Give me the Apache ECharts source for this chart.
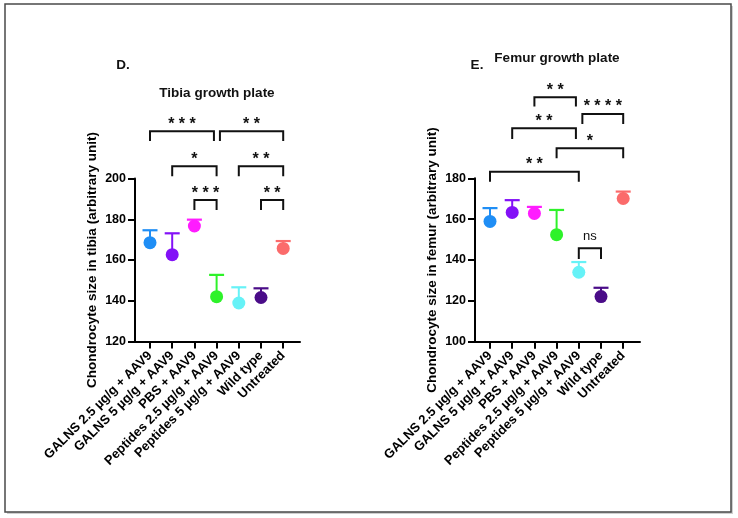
<!DOCTYPE html>
<html>
<head>
<meta charset="utf-8">
<script src="https://cdn.jsdelivr.net/npm/echarts@6/dist/echarts.min.js"></script>
<style>
  html, body { margin: 0; padding: 0; background: #fff; }
  #main { width: 738px; height: 518px; }
</style>
</head>
<body>
<div id="main"></div>
<script>
var groups = ['GALNS 2.5 µg/g + AAV9', 'GALNS 5 µg/g + AAV9', 'PBS + AAV9',
    'Peptides 2.5 µg/g + AAV9', 'Peptides 5 µg/g + AAV9', 'Wild type', 'Untreated'];
var colors = ['#1f8ef5', '#8311f7', '#ff1cff', '#2ef22a', '#66f2f7', '#4a0c88', '#fb6b6b'];

// tibia: mean and top of the (one sided) error bar
var tibiaMean = [168.5, 162.6, 176.7, 142.0, 138.9, 141.6, 165.7];
var tibiaUpper = [174.6, 173.1, 179.8, 152.7, 146.6, 146.1, 169.3];
// femur
var femurMean = [158.9, 163.3, 162.8, 152.4, 134.0, 122.1, 170.1];
var femurUpper = [165.4, 169.3, 166.0, 164.5, 139.0, 126.4, 173.5];

// significance brackets: [from group, to group, bar height, leg bottom]
var tibiaBrackets = [[0, 2.88, 223.2, 218.4], [3.15, 6, 223.2, 218.4], [1, 3, 206.0, 201.1],
    [4, 6, 206.0, 201.1], [2, 3, 189.4, 184.5], [5, 6, 189.4, 184.5]];
var tibiaStars = ['***', '**', '*', '**', '***', '**'];
var femurBrackets = [[2, 3.87, 219.7, 215.1], [4.16, 6, 211.5, 206.6], [1, 3.87, 204.5, 199.2],
    [3, 6, 194.7, 189.8], [0, 4, 183.2, 178.3], [4, 5, 145.7, 140.5]];
var femurStars = ['**', '****', '**', '*', '**', 'ns'];

var FONT = 'Arial, "Liberation Sans", sans-serif';
var myChart = echarts.init(document.getElementById('main'));

function pointData(mean) {
    return mean.map(function (v, i) {
        return { value: [i, v], itemStyle: { color: colors[i], opacity: 1 } };
    });
}
function errData(mean, upper) {
    return mean.map(function (v, i) { return [i, v, upper[i]]; });
}

function renderErr(params, api) {
    var i = api.value(0);
    var a = api.coord([i, api.value(1)]);
    var b = api.coord([i, api.value(2)]);
    var c = colors[params.dataIndex];
    return {
        type: 'group',
        children: [
            { type: 'line', shape: { x1: a[0], y1: a[1], x2: b[0], y2: b[1] },
              style: { stroke: c, lineWidth: 2 } },
            { type: 'line', shape: { x1: b[0] - 7.5, y1: b[1], x2: b[0] + 7.5, y2: b[1] },
              style: { stroke: c, lineWidth: 2.2 } }
        ]
    };
}

function bracketRenderer(stars) {
    return function (params, api) {
        var p0 = api.coord([0, api.value(2)]);
        var p1 = api.coord([1, api.value(2)]);
        var step = p1[0] - p0[0];
        var xa = p0[0] + step * api.value(0);
        var xb = p0[0] + step * api.value(1);
        var yTop = p0[1];
        var yFoot = api.coord([0, api.value(3)])[1];
        var lab = stars[params.dataIndex];
        var isNs = lab === 'ns';
        return {
            type: 'group',
            children: [
                { type: 'polyline', shape: { points: [[xa, yFoot], [xa, yTop], [xb, yTop], [xb, yFoot]] },
                  style: { stroke: '#111', lineWidth: 2, fill: null } },
                { type: 'text', style: {
                    x: (xa + xb) / 2, y: isNs ? yTop - 12 : yTop - 7,
                    text: isNs ? lab : lab.split('').join(' '),
                    textAlign: 'center', textVerticalAlign: 'middle',
                    font: (isNs ? 'normal 13px ' : 'bold 16px ') + FONT, fill: '#111' } }
            ]
        };
    };
}

function axesGrid(idx) {
    return [
        { gridIndex: idx, type: 'value', min: 0, max: 1,
          axisLine: { show: true, lineStyle: { color: '#000', width: 2 } },
          axisTick: { show: false }, axisLabel: { show: false }, splitLine: { show: false } },
        { gridIndex: idx + 1, type: 'category', data: groups,
          axisLine: { show: false },
          axisTick: { show: true, alignWithLabel: true, length: 7, lineStyle: { color: '#000', width: 2 } },
          axisLabel: { interval: 0, rotate: 45, margin: 12, color: '#000',
                       fontSize: 13, fontWeight: 'bold', fontFamily: FONT },
          splitLine: { show: false } }
    ];
}

function yAxes(idx, min, max, name) {
    return [
        { gridIndex: idx, type: 'value', min: min, max: max, interval: 20,
          axisLine: { show: true, lineStyle: { color: '#000', width: 2 } },
          axisTick: { show: true, length: 7, lineStyle: { color: '#000', width: 2 } },
          axisLabel: { margin: 9, color: '#000', fontSize: 12.5, fontWeight: 'bold', fontFamily: FONT },
          splitLine: { show: false },
          name: name, nameLocation: 'middle', nameGap: 36,
          nameTextStyle: { color: '#000', fontSize: 13.5, fontWeight: 'bold', fontFamily: FONT } },
        { gridIndex: idx + 1, type: 'value', min: min, max: max, show: false, splitLine: { show: false } }
    ];
}

function txt(x, y, s, size) {
    return { type: 'text', z: 5, style: { x: x, y: y, text: s, textAlign: 'center', textVerticalAlign: 'middle',
        font: 'bold ' + size + 'px ' + FONT, fill: '#111' } };
}

option = {
    backgroundColor: '#fff',
    animation: false,
    graphic: [
        { type: 'rect', z: -2, shape: { x: 7, y: 6, width: 726, height: 508 }, style: { fill: '#cfcfcf' } },
        { type: 'rect', z: -1, shape: { x: 5, y: 4, width: 726, height: 508 },
          style: { fill: '#fff', stroke: '#4a4a4a', lineWidth: 1.5 } },
        txt(123, 65, 'D.', 13.5),
        txt(217, 93, 'Tibia growth plate', 13.5),
        txt(477, 65, 'E.', 13.5),
        txt(557, 58, 'Femur growth plate', 13.5)
    ],
    grid: [
        { left: 135, top: 178.5, width: 165, height: 163 },
        { left: 138.9, top: 178.5, width: 155.4, height: 163 },
        { left: 475, top: 178.3, width: 165, height: 163.4 },
        { left: 478.9, top: 178.3, width: 155.4, height: 163.4 }
    ],
    xAxis: axesGrid(0).concat(axesGrid(2)),
    yAxis: yAxes(0, 120, 200, 'Chondrocyte size in tibia (arbitrary unit)')
        .concat(yAxes(2, 100, 180, 'Chondrocyte size in femur (arbitrary unit)')),
    series: [
        { type: 'custom', xAxisIndex: 1, yAxisIndex: 1, renderItem: renderErr,
          data: errData(tibiaMean, tibiaUpper), clip: false, z: 2 },
        { type: 'scatter', xAxisIndex: 1, yAxisIndex: 1, symbolSize: 13,
          itemStyle: { opacity: 1 }, data: pointData(tibiaMean), z: 3 },
        { type: 'custom', xAxisIndex: 1, yAxisIndex: 1, renderItem: bracketRenderer(tibiaStars),
          data: tibiaBrackets, clip: false, z: 4 },
        { type: 'custom', xAxisIndex: 3, yAxisIndex: 3, renderItem: renderErr,
          data: errData(femurMean, femurUpper), clip: false, z: 2 },
        { type: 'scatter', xAxisIndex: 3, yAxisIndex: 3, symbolSize: 13,
          itemStyle: { opacity: 1 }, data: pointData(femurMean), z: 3 },
        { type: 'custom', xAxisIndex: 3, yAxisIndex: 3, renderItem: bracketRenderer(femurStars),
          data: femurBrackets, clip: false, z: 4 }
    ]
};
myChart.setOption(option);
</script>
</body>
</html>
